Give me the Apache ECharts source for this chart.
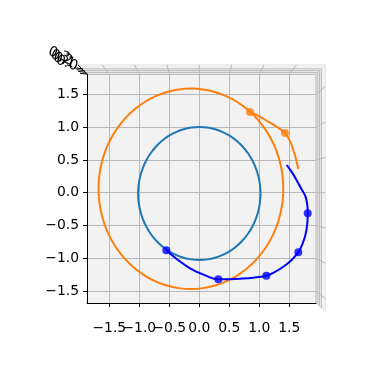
<!DOCTYPE html>
<html><head><meta charset="utf-8">
<script src="https://cdn.jsdelivr.net/npm/echarts@6/dist/echarts.min.js"></script>
<style>html,body{margin:0;padding:0;background:#fff}#c{width:389px;height:389px}</style>
</head><body><div id="c"></div>
<script>
// ---- data ----
const tickValues = [-1.5, -1.0, -0.5, 0.0, 0.5, 1.0, 1.5];
const xLabelsMain = [-1.5, -0.5, 0.0, 0.5, 1.0, 1.5];
const xLabelsExtra = [-1.0];
const zTickLabels = ['0.3', '0.2', '0.1', '0.0'];
const xRange = [-1.872, 1.945];
const yRange = [-1.684, 1.808];

// inner orbit (blue circle), read every 7.5 degrees
const innerOrbit = [
  [1.02, -0.012], [1.011, 0.120], [0.985, 0.251], [0.942, 0.376], [0.883, 0.496], [0.809, 0.606],
  [0.721, 0.706], [0.621, 0.793], [0.51, 0.867], [0.390, 0.926], [0.264, 0.968], [0.133, 0.994],
  [0.0, 1.003], [-0.133, 0.994], [-0.264, 0.968], [-0.390, 0.926], [-0.51, 0.867], [-0.621, 0.793],
  [-0.721, 0.706], [-0.809, 0.606], [-0.883, 0.496], [-0.942, 0.376], [-0.985, 0.251], [-1.011, 0.120],
  [-1.02, -0.012], [-1.011, -0.144], [-0.985, -0.275], [-0.942, -0.400], [-0.883, -0.520], [-0.809, -0.630],
  [-0.721, -0.730], [-0.621, -0.817], [-0.51, -0.891], [-0.390, -0.950], [-0.264, -0.992], [-0.133, -1.018],
  [0.0, -1.027], [0.133, -1.018], [0.264, -0.992], [0.390, -0.950], [0.51, -0.891], [0.621, -0.817],
  [0.721, -0.730], [0.809, -0.630], [0.883, -0.520], [0.942, -0.400], [0.985, -0.275], [1.011, -0.144],
  [1.02, -0.012]
];
// outer orbit (orange), read every 7.5 degrees
const outerOrbit = [
  [1.40, 0.06], [1.387, 0.26], [1.347, 0.456], [1.283, 0.646], [1.194, 0.825], [1.082, 0.991],
  [0.949, 1.142], [0.798, 1.274], [0.63, 1.385], [0.449, 1.474], [0.259, 1.538], [0.061, 1.577],
  [-0.14, 1.59], [-0.341, 1.577], [-0.539, 1.538], [-0.729, 1.474], [-0.91, 1.385], [-1.078, 1.274],
  [-1.229, 1.142], [-1.362, 0.991], [-1.474, 0.825], [-1.563, 0.646], [-1.627, 0.456], [-1.667, 0.26],
  [-1.68, 0.06], [-1.667, -0.14], [-1.627, -0.336], [-1.563, -0.526], [-1.474, -0.705], [-1.362, -0.871],
  [-1.229, -1.022], [-1.078, -1.154], [-0.91, -1.265], [-0.729, -1.354], [-0.539, -1.418], [-0.341, -1.457],
  [-0.14, -1.47], [0.061, -1.457], [0.259, -1.418], [0.449, -1.354], [0.63, -1.265], [0.798, -1.154],
  [0.949, -1.022], [1.082, -0.871], [1.194, -0.705], [1.283, -0.526], [1.347, -0.336], [1.387, -0.14],
  [1.40, 0.06]
];
// orange arc + markers
const orangeArc = [[0.845, 1.232], [1.0, 1.165], [1.15, 1.084], [1.30, 1.0], [1.428, 0.911],
                   [1.51, 0.79], [1.567, 0.652], [1.615, 0.50], [1.65, 0.362]];
const orangeDots = [[0.845, 1.232], [1.428, 0.911]];
// blue trajectory + markers
const blueTrack = [
  [1.457, 0.423], [1.545, 0.31], [1.62, 0.195], [1.70, 0.06], [1.77, -0.06], [1.80, -0.19], [1.807, -0.315],
  [1.80, -0.47], [1.775, -0.62], [1.725, -0.77], [1.65, -0.91], [1.535, -1.03], [1.40, -1.13],
  [1.26, -1.21], [1.117, -1.267], [0.90, -1.297], [0.678, -1.313], [0.50, -1.32], [0.317, -1.322],
  [0.08, -1.255], [-0.155, -1.154], [-0.377, -1.012], [-0.55, -0.879]
];
const blueDots = [[1.807, -0.315], [1.65, -0.91], [1.117, -1.267], [0.317, -1.322], [-0.55, -0.879]];

// ---- chart ----
const FONT = 'DejaVu Sans';
const gridColor = '#b8b8b8';
const fmt = v => v.toFixed(1).replace('-', '\u2212');
const chart = echarts.init(document.getElementById('c'), null, {renderer: 'canvas'});

const xLabelStyle = {formatter: fmt, margin: 18, color: '#000', fontFamily: FONT, fontSize: 13.9,
                     hideOverlap: false, showMinLabel: true, showMaxLabel: true};
const option = {
  animation: false,
  backgroundColor: '#ffffff',
  grid: {left: 87, top: 74.3, right: 73, bottom: 86, show: true, backgroundColor: '#f2f2f2',
         borderWidth: 0, outerBoundsMode: 'none', containLabel: false},
  xAxis: [{
    type: 'value', min: xRange[0], max: xRange[1], position: 'bottom',
    axisLine: {show: true, onZero: false, lineStyle: {color: '#000', width: 1}},
    axisTick: {show: true, customValues: tickValues, length: 4, lineStyle: {color: '#000'}},
    axisLabel: Object.assign({customValues: xLabelsMain}, xLabelStyle),
    splitLine: {show: true, lineStyle: {color: gridColor, width: 1}}
  }, {
    type: 'value', min: xRange[0], max: xRange[1], position: 'bottom', offset: 0,
    axisLine: {show: false, onZero: false},
    axisTick: {show: false},
    axisLabel: Object.assign({customValues: xLabelsExtra}, xLabelStyle),
    splitLine: {show: false}
  }],
  yAxis: {
    type: 'value', min: yRange[0], max: yRange[1],
    axisLine: {show: true, onZero: false, lineStyle: {color: '#000', width: 1}},
    axisTick: {show: true, customValues: tickValues, length: 4, lineStyle: {color: '#000'}},
    axisLabel: {customValues: tickValues, formatter: fmt, margin: 8, color: '#000',
                fontFamily: FONT, fontSize: 13.9, padding: [14, 0, 0, 0], hideOverlap: false,
                showMinLabel: true, showMaxLabel: true},
    splitLine: {show: true, lineStyle: {color: gridColor, width: 1}}
  },
  series: [
    {type: 'line', data: innerOrbit, smooth: 0.4, symbol: 'none', clip: false,
     lineStyle: {color: '#1f77b4', width: 2}, z: 3},
    {type: 'line', data: outerOrbit, smooth: 0.4, symbol: 'none', clip: false,
     lineStyle: {color: '#ff7f0e', width: 2}, z: 3},
    {type: 'line', data: orangeArc, smooth: 0.4, symbol: 'none', clip: false,
     lineStyle: {color: '#ff7f0e', width: 2}, z: 4},
    {type: 'scatter', data: orangeDots, symbol: 'circle', symbolSize: 8,
     itemStyle: {color: '#ff7f0e'}, z: 5},
    {type: 'line', data: blueTrack, smooth: 0.4, symbol: 'none', clip: false,
     lineStyle: {color: '#0000ff', width: 2}, z: 6},
    {type: 'scatter', data: blueDots, symbol: 'circle', symbolSize: 8,
     itemStyle: {color: '#0000ff'}, z: 7}
  ]
};
chart.setOption(option);

// ---- decorative 3D pane walls (positions derived from the axes) ----
const P = (x, y) => chart.convertToPixel({gridIndex: 0}, [x, y]);
const tl = P(xRange[0], yRange[1]), br = P(xRange[1], yRange[0]);
const L = tl[0], T = tl[1], R = br[0], B = br[1];
const cx = P(0, 0)[0], cy = (T + B) / 2 + 4.5;
const S = 1.08;
const sc = (p, s) => [cx + (p[0] - cx) * s, cy + (p[1] - cy) * s];
const g = [];
g.push({type: 'polygon', shape: {points: [[L, T], [R, T], sc([R, T], S), sc([L, T], S)]},
        style: {fill: '#f2f2f2', stroke: '#e6e6e6', lineWidth: 1}, z: 0});
g.push({type: 'polygon', shape: {points: [[R, T], [R, B], sc([R, B], S), sc([R, T], S)]},
        style: {fill: '#f2f2f2', stroke: '#e6e6e6', lineWidth: 1}, z: 0});
[1.0, 1.016, 1.031, 1.046].forEach(s => {
  g.push({type: 'polyline', shape: {points: [sc([L, T], s), sc([R, T], s), sc([R, B], s)]},
          style: {stroke: gridColor, lineWidth: 1, fill: null}, z: 1});
});
tickValues.forEach(v => {
  const px = P(v, 0)[0];
  g.push({type: 'line', shape: {x1: px, y1: T, x2: sc([px, T], S)[0], y2: sc([px, T], S)[1]},
          style: {stroke: gridColor, lineWidth: 1}, z: 1});
  const py = P(0, v)[1];
  g.push({type: 'line', shape: {x1: R, y1: py, x2: sc([R, py], S)[0], y2: sc([R, py], S)[1]},
          style: {stroke: gridColor, lineWidth: 1}, z: 1});
});
const zTop = sc([L, T], S);
g.push({type: 'line', shape: {x1: L, y1: T, x2: zTop[0], y2: zTop[1]},
        style: {stroke: '#000', lineWidth: 1}, z: 2});
[1.0, 1.016, 1.031, 1.046].forEach(s => {
  const p = sc([L, T], s);
  g.push({type: 'line', shape: {x1: p[0] + 1, y1: p[1], x2: p[0] - 7, y2: p[1] - 1},
          style: {stroke: '#000', lineWidth: 1}, z: 2});
});
zTickLabels.forEach((t, i) => {
  g.push({type: 'text', x: 59 + i * 2.6, y: 55 + i * 2.8, rotation: -0.35,
          style: {text: t, fill: '#000', font: '13.9px "DejaVu Sans"', align: 'center', verticalAlign: 'middle'},
          z: 2});
});
chart.setOption({graphic: {elements: g}});
</script>
</body></html>
